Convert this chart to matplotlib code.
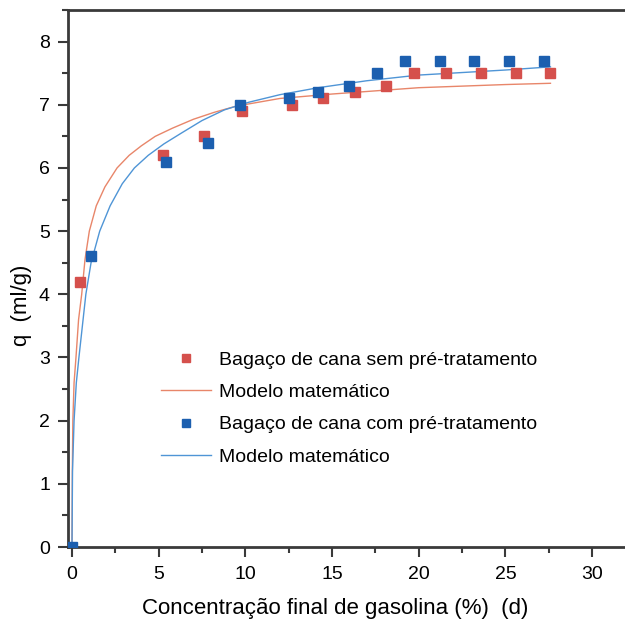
import matplotlib.pyplot as plt

# dados
x_sem = [0.45, 5.25, 7.6, 9.8, 12.7, 14.5, 16.3, 18.1, 19.7, 21.6, 23.6, 25.6, 27.6]
q_sem = [4.2, 6.2, 6.5, 6.9, 7.0, 7.1, 7.2, 7.3, 7.5, 7.5, 7.5, 7.5, 7.5]

x_com = [0.0, 1.1, 5.45, 7.85, 9.7, 12.5, 14.2, 16.0, 17.6, 19.2, 21.2, 23.2, 25.2, 27.2]
q_com = [0.0, 4.6, 6.1, 6.4, 7.0, 7.1, 7.2, 7.3, 7.5, 7.7, 7.7, 7.7, 7.7, 7.7]

# curvas do modelo (lidas ponto a ponto)
xm_sem = [0.0, 0.02, 0.05, 0.12, 0.23, 0.38, 0.56, 0.75, 1.0, 1.4, 1.9, 2.6, 3.3, 4.0, 4.8,
          5.8, 7.0, 8.2, 9.5, 12.0, 15.0, 20.0, 25.0, 27.6]
qm_sem = [0.0, 1.2, 2.0, 2.6, 3.0, 3.6, 4.0, 4.55, 5.0, 5.4, 5.7, 6.0, 6.2, 6.35, 6.5,
          6.63, 6.77, 6.88, 6.98, 7.1, 7.17, 7.27, 7.32, 7.34]

xm_com = [0.0, 0.03, 0.12, 0.25, 0.4, 0.6, 0.8, 1.1, 1.6, 2.2, 2.9, 3.6, 4.4, 5.3, 6.3,
          7.5, 8.8, 10.2, 12.0, 14.2, 17.0, 20.0, 25.0, 27.6]
qm_com = [0.0, 1.2, 2.0, 2.6, 3.0, 3.5, 4.0, 4.5, 5.0, 5.4, 5.75, 6.0, 6.2, 6.38, 6.55,
          6.75, 6.92, 7.04, 7.16, 7.27, 7.38, 7.47, 7.55, 7.6]

red = "#d5504c"
blue = "#1c5faf"
red_line = "#e8866a"
blue_line = "#4f95d6"

plt.rcParams["font.family"] = ["Liberation Sans", "DejaVu Sans"]

fig = plt.figure(figsize=(6.25, 6.29), dpi=100)
ax = fig.add_axes([68 / 625, 82 / 629, 557 / 625, 537 / 629])

ax.plot(x_sem, q_sem, "s", color=red, markersize=7, label="Bagaço de cana sem pré-tratamento", zorder=3)
ax.plot(xm_sem, qm_sem, "-", color=red_line, lw=1.0, label="Modelo matemático")
ax.plot(x_com, q_com, "s", color=blue, markersize=7, label="Bagaço de cana com pré-tratamento", zorder=3)
ax.plot(xm_com, qm_com, "-", color=blue_line, lw=1.0, label="Modelo matemático")

ax.set_xlim(-0.23, 31.9)
ax.set_ylim(0, 8.5)
ax.set_xticks([0, 5, 10, 15, 20, 25, 30])
ax.set_xticks([2.5, 7.5, 12.5, 17.5, 22.5, 27.5], minor=True)
ax.set_yticks(range(0, 9))
ax.set_yticks([i + 0.5 for i in range(0, 9)], minor=True)

for s in ["left", "top", "bottom"]:
    ax.spines[s].set_linewidth(2.0)
    ax.spines[s].set_color("#3a3a3a")
ax.spines["right"].set_visible(False)

ax.tick_params(axis="both", which="major", direction="out", length=7, width=1.5,
               color="#3a3a3a", labelsize=14)
ax.tick_params(axis="both", which="minor", direction="out", length=4, width=1.5, color="#3a3a3a")
ax.tick_params(axis="x", which="major", pad=7)
ax.tick_params(axis="y", which="major", pad=6)

ax.set_xlabel("Concentração final de gasolina (%)  (d)", fontsize=16)
ax.set_ylabel("q  (ml/g)", fontsize=16)
ax.xaxis.set_label_coords(0.48, -0.095)
ax.yaxis.set_label_coords(-0.065, 0.45)

leg = ax.legend(loc="upper left", bbox_to_anchor=(0.135, 0.397), frameon=False,
                fontsize=14, handlelength=2.6, handletextpad=0.4, labelspacing=0.75,
                markerscale=0.75)

fig.savefig("out.png", dpi=100)
